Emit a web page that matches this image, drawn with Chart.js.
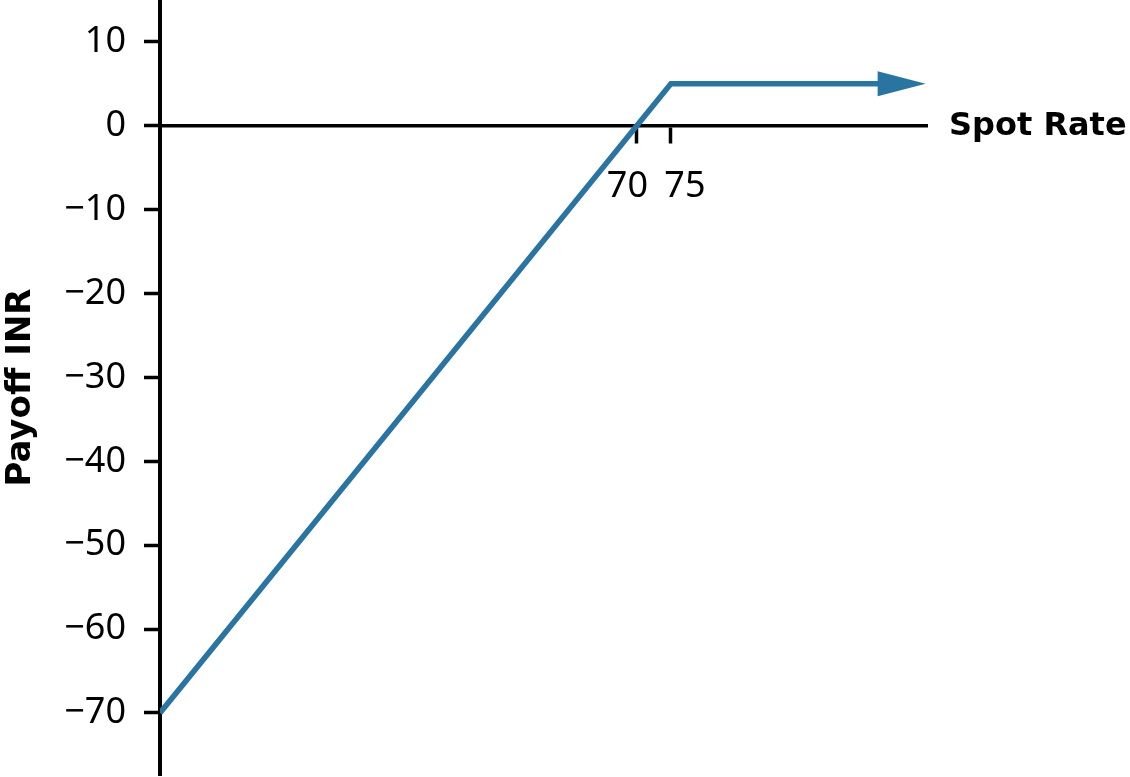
<!DOCTYPE html>
<html>
<head>
<meta charset="utf-8">
<script src="https://cdn.jsdelivr.net/npm/chart.js@4"></script>
<style>
  html, body { margin: 0; padding: 0; background: #fff; }
  #box { width: 1130px; height: 777px; position: relative; }
</style>
</head>
<body>
<div id="box"><canvas id="myChart"></canvas></div>
<script>
// data
const spotRate = [0, 75, 105.5];
const payoff = [-70, 5, 5];
const xTicks = [70, 75];
const yTicks = [-70, -60, -50, -40, -30, -20, -10, 0, 10];
const xRange = [0, 112.6];
const yRange = [-77.4, 15];

const BLUE = '#2a74a2';
const FONT = "'Noto Sans', 'Open Sans', sans-serif";
const TITLE_FONT = "'DejaVu Sans', 'Noto Sans', sans-serif";

Chart.defaults.color = '#000';
Chart.defaults.font.family = FONT;

var ctx = document.getElementById('myChart').getContext('2d');

// arrow head at the end of the line + "Spot Rate" label at the right of the x axis
const extras = {
  id: 'extras',
  afterDatasetsDraw(chart) {
    const pts = chart.getDatasetMeta(0).data;
    const last = pts[pts.length - 1];
    const prev = pts[pts.length - 2];
    const a = Math.atan2(last.y - prev.y, last.x - prev.x);
    const c = chart.ctx;
    c.save();
    c.translate(last.x, last.y);
    c.rotate(a);
    c.beginPath();
    c.moveTo(-1, -12.5);
    c.lineTo(47, 0);
    c.lineTo(-1, 12.5);
    c.closePath();
    c.fillStyle = BLUE;
    c.fill();
    c.restore();
  },
  afterDraw(chart) {
    const c = chart.ctx;
    const y0 = chart.scales.y.getPixelForValue(0);
    c.save();
    c.font = "bold 32px " + TITLE_FONT;
    c.fillStyle = '#000';
    c.textBaseline = 'alphabetic';
    c.textAlign = 'left';
    c.fillText('Spot Rate', chart.chartArea.right + 22, y0 + 9);
    c.restore();
  }
};

function minus(v) {
  return v < 0 ? '\u2212' + Math.abs(v) : String(v);
}

chart = new Chart(ctx, {
  type: 'line',
  data: {
    datasets: [
      {
        data: spotRate.map((x, i) => ({x: x, y: payoff[i]})),
        borderColor: BLUE,
        borderWidth: 5.5,
        pointRadius: 0,
        tension: 0,
        borderCapStyle: 'butt',
        borderJoinStyle: 'miter',
        fill: false
      }
    ]
  },
  options: {
    responsive: true,
    maintainAspectRatio: false,
    devicePixelRatio: 1,
    animation: false,
    layout: { padding: { left: 0, top: 0, right: 203, bottom: 2 } },
    plugins: { legend: { display: false }, tooltip: { enabled: false } },
    scales: {
      x: {
        type: 'linear',
        position: { y: 0 },
        min: xRange[0],
        max: xRange[1],
        afterBuildTicks: s => { s.ticks = xTicks.map(v => ({value: v})); },
        ticks: {
          font: { size: 36 },
          padding: 23,
          maxRotation: 0,
          autoSkip: false,
          // nudge the two close labels apart like the original
          callback: v => v === 70 ? '70\u00a0\u00a0' : '\u00a0\u00a0\u00a075'
        },
        grid: {
          drawOnChartArea: false,
          drawTicks: true,
          tickLength: 16,
          tickWidth: 3.5,
          tickColor: '#000'
        },
        border: { display: true, color: '#000', width: 3.5 }
      },
      y: {
        type: 'linear',
        position: 'left',
        min: yRange[0],
        max: yRange[1],
        afterBuildTicks: s => { s.ticks = yTicks.map(v => ({value: v})); },
        afterFit: s => { s.width = 160; s.paddingTop = 0; s.paddingBottom = 0; },
        ticks: {
          font: { size: 36 },
          padding: 18,
          autoSkip: false,
          callback: v => minus(v)
        },
        grid: {
          drawOnChartArea: false,
          drawTicks: true,
          tickLength: 16,
          tickWidth: 3.5,
          tickColor: '#000'
        },
        border: { display: true, color: '#000', width: 4 },
        title: {
          display: true,
          text: 'Payoff INR',
          font: { family: TITLE_FONT, size: 34, weight: 'bold' },
          padding: { top: 1, bottom: 0 }
        }
      }
    }
  },
  plugins: [extras]
});
</script>
</body>
</html>
